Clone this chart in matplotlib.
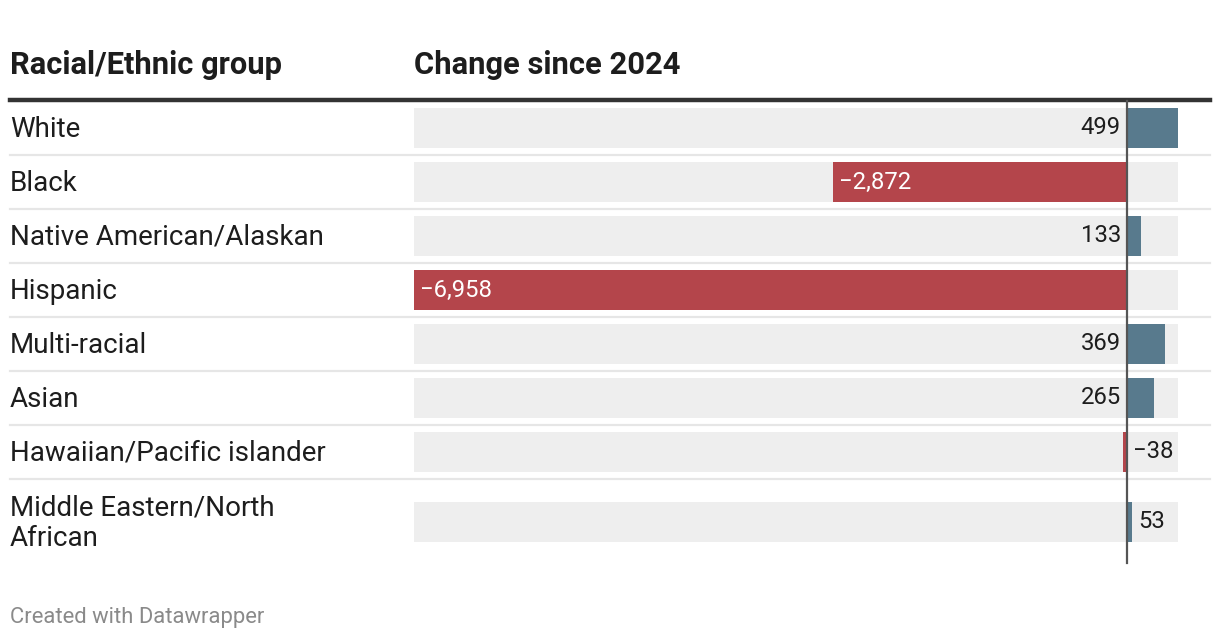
import matplotlib
matplotlib.use("Agg")
import matplotlib.pyplot as plt

plt.rcParams['font.family'] = ['Roboto', 'DejaVu Sans']

groups = ["White", "Black", "Native American/Alaskan", "Hispanic", "Multi-racial",
          "Asian", "Hawaiian/Pacific islander", "Middle Eastern/North\nAfrican"]
changes = [499, -2872, 133, -6958, 369, 265, -38, 53]
value_labels = ["499", "\u22122,872", "133", "\u22126,958", "369", "265", "\u221238", "53"]
header_left = "Racial/Ethnic group"
header_right = "Change since 2024"
footer = "Created with Datawrapper"

# style: label placement per row ('in' = inside bar start, 'left' = left of zero, 'right' = right of bar)
label_side = ['left', 'in', 'left', 'in', 'left', 'left', 'right', 'right']

W, H = 1220, 640
fig = plt.figure(figsize=(W / 100, H / 100), dpi=100)
fig.patch.set_facecolor('white')

# overlay axes in pixel coordinates
ov = fig.add_axes([0, 0, 1, 1])
ov.set_xlim(0, W)
ov.set_ylim(H, 0)
ov.axis('off')

# bar axes
xmin, xmax = min(changes), max(changes)
bx0, bx1 = 414, 1178
ax = fig.add_axes([bx0 / W, 0, (bx1 - bx0) / W, 1])
ax.set_xlim(xmin, xmax)
ax.set_ylim(H, 0)
ax.axis('off')
ax.patch.set_alpha(0)

centers = [128 + 54 * i for i in range(7)] + [522]
bar_h = 40
blue = '#587a8d'
red = '#b4454b'

ax.barh(centers, [xmax - xmin] * len(centers), left=xmin, height=bar_h,
        color='#eeeeee', zorder=1)
ax.barh(centers, changes, left=0, height=bar_h,
        color=[blue if v > 0 else red for v in changes], zorder=2)

# separators
seps = [155 + 54 * i for i in range(7)]
for s in seps:
    ov.plot([10, 1210], [s, s], color='#e6e6e6', lw=1.6, zorder=0)
ov.plot([10, 1210], [100, 100], color='#333333', lw=3.2, zorder=3)

# zero line
ax.plot([0, 0], [101, 563], color='#555555', lw=1.6, zorder=4)

fs_row = 20
for c, g in zip(centers, groups):
    ov.text(10, c + 1.5, g, fontsize=fs_row, ha='left', va='center', color='#1d1d1d',
            linespacing=1.17)

fs_val = 17.2
for c, v, lab, side in zip(centers, changes, value_labels, label_side):
    if side == 'in':
        ax.annotate(lab, (v, c), xytext=(6 * 72 / 100, 0), textcoords='offset points',
                    ha='left', va='center', fontsize=fs_val, color='white', zorder=5)
    elif side == 'left':
        ax.annotate(lab, (0, c), xytext=(-6 * 72 / 100, 0), textcoords='offset points',
                    ha='right', va='center', fontsize=fs_val, color='#1d1d1d', zorder=5)
    else:
        ax.annotate(lab, (max(v, 0), c), xytext=(6 * 72 / 100, 0), textcoords='offset points',
                    ha='left', va='center', fontsize=fs_val, color='#1d1d1d', zorder=5)

ov.text(10, 74, header_left, fontsize=22.2, fontweight='bold', ha='left', va='baseline',
        color='#1d1d1d')
ov.text(414, 74, header_right, fontsize=22.2, fontweight='bold', ha='left', va='baseline',
        color='#1d1d1d')
ov.text(10, 617, footer, fontsize=15.8, ha='left', va='center', color='#8a8a8a')

fig.savefig('out.png', dpi=100, facecolor='white')
